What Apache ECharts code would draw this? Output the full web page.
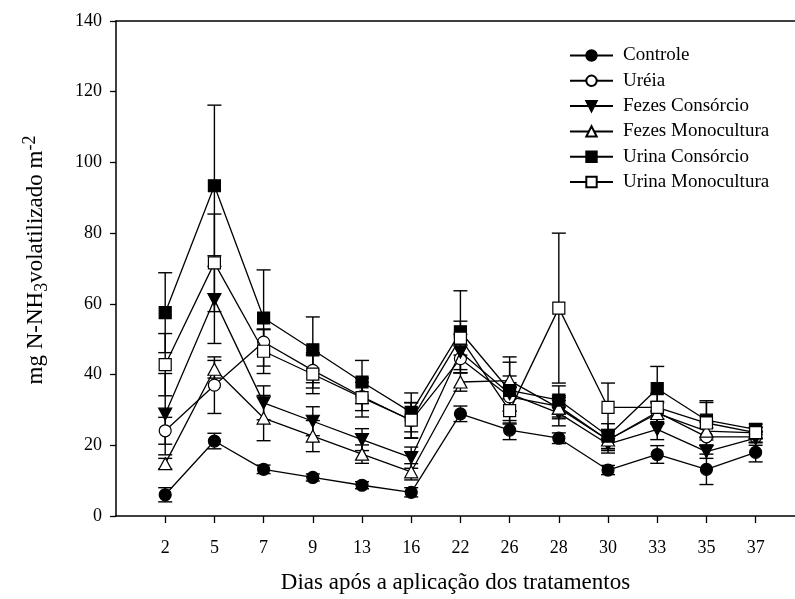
<!DOCTYPE html>
<html>
<head>
<meta charset="utf-8">
<script src="https://cdn.jsdelivr.net/npm/echarts@6/dist/echarts.min.js"></script>
<style>
  html, body { margin: 0; padding: 0; background: #fff; }
  #chart { width: 795px; height: 599px; }
</style>
</head>
<body>
<div id="chart"></div>
<script>
// Sampling days (x-axis categories)
const days = ['2', '5', '7', '9', '13', '16', '22', '26', '28', '30', '33', '35', '37'];

// Y-axis tick values
const yTicks = [0, 20, 40, 60, 80, 100, 120, 140];

// Volatilized N-NH3 (mg m-2) and standard errors per treatment
const controle      = [6.0, 21.2, 13.2, 10.9, 8.7, 6.7, 28.9, 24.3, 22.0, 13.0, 17.4, 13.2, 18.0];
const controleErr   = [2.0, 2.2, 1.2, 1.0, 1.0, 1.3, 2.2, 2.7, 1.5, 1.3, 2.5, 4.3, 2.7];

const ureia         = [24.1, 37.0, 49.2, 41.2, 33.8, 27.0, 44.5, 33.7, 31.0, 21.5, 29.4, 22.4, 22.4];
const ureiaErr      = [3.8, 8.0, 3.5, 5.0, 4.0, 5.0, 4.0, 4.0, 3.0, 3.0, 3.0, 2.5, 1.5];

const fezesCons     = [28.8, 61.2, 32.0, 26.8, 21.6, 16.5, 46.4, 34.6, 29.1, 20.3, 24.5, 18.2, 22.0];
const fezesConsErr  = [11.5, 12.4, 4.8, 4.1, 3.1, 3.0, 5.0, 5.0, 3.6, 2.5, 2.9, 1.9, 2.0];

const fezesMono     = [14.8, 41.5, 27.7, 22.6, 17.5, 12.5, 37.9, 38.3, 30.5, 21.5, 29.0, 24.0, 23.5];
const fezesMonoErr  = [1.5, 2.5, 6.4, 4.4, 2.6, 2.3, 2.6, 5.2, 3.0, 2.5, 3.0, 2.5, 1.5];

const urinaCons     = [57.5, 93.4, 56.0, 47.0, 37.9, 29.3, 52.1, 35.5, 32.8, 22.6, 36.0, 27.1, 24.5];
const urinaConsErr  = [11.3, 22.8, 13.6, 9.3, 6.1, 5.5, 11.6, 9.5, 4.0, 3.5, 6.3, 5.0, 1.5];

const urinaMono     = [42.8, 71.6, 46.6, 40.1, 33.5, 27.1, 50.3, 29.8, 58.8, 30.7, 30.7, 26.3, 23.6];
const urinaMonoErr  = [8.8, 13.8, 6.3, 5.5, 5.5, 5.0, 4.8, 3.5, 21.2, 6.9, 4.0, 6.3, 1.5];

const serif = 'Liberation Serif, Times New Roman, serif';
const downTriangle = 'path://M0,0L10,0L5,9Z';

const treatments = [
  { name: 'Controle',           vals: controle,  errs: controleErr,  symbol: 'circle',     size: 12,       fill: '#000' },
  { name: 'Uréia',              vals: ureia,     errs: ureiaErr,     symbol: 'circle',     size: 12,       fill: '#fff' },
  { name: 'Fezes Consórcio',    vals: fezesCons, errs: fezesConsErr, symbol: downTriangle, size: [13, 12], fill: '#000' },
  { name: 'Fezes Monocultura',  vals: fezesMono, errs: fezesMonoErr, symbol: 'triangle',   size: [13, 12], fill: '#fff' },
  { name: 'Urina Consórcio',    vals: urinaCons, errs: urinaConsErr, symbol: 'rect',       size: 12,       fill: '#000' },
  { name: 'Urina Monocultura',  vals: urinaMono, errs: urinaMonoErr, symbol: 'rect',       size: 12,       fill: '#fff' }
];

// Vertical error bar with caps, drawn in data coordinates
function errorBarSeries(vals, errs) {
  return {
    type: 'custom',
    silent: true,
    z: 1,
    data: vals.map((v, i) => [i, v - errs[i], v + errs[i]]),
    encode: { x: 0, y: [1, 2] },
    renderItem: function (params, api) {
      const x = api.value(0);
      const lo = api.coord([x, api.value(1)]);
      const hi = api.coord([x, api.value(2)]);
      const hw = 7;
      const st = { stroke: '#000', lineWidth: 1.4 };
      return {
        type: 'group',
        children: [
          { type: 'line', shape: { x1: lo[0], y1: lo[1], x2: hi[0], y2: hi[1] }, style: st },
          { type: 'line', shape: { x1: lo[0] - hw, y1: lo[1], x2: lo[0] + hw, y2: lo[1] }, style: st },
          { type: 'line', shape: { x1: hi[0] - hw, y1: hi[1], x2: hi[0] + hw, y2: hi[1] }, style: st }
        ]
      };
    }
  };
}

const series = [];
treatments.forEach(t => series.push(errorBarSeries(t.vals, t.errs)));
treatments.forEach((t, k) => series.push({
  name: t.name,
  type: 'line',
  z: 3 + k,
  data: t.vals.map((v, i) => [i, v]),
  symbol: t.symbol,
  symbolSize: t.size,
  showAllSymbol: true,
  lineStyle: { color: '#000', width: 1.3 },
  itemStyle: { color: t.fill, borderColor: '#000', borderWidth: 1.2 },
  emphasis: { disabled: true }
}));

const dayIdx = days.map((d, i) => i);

const chart = echarts.init(document.getElementById('chart'), null, { renderer: 'canvas' });
chart.setOption({
  animation: false,
  backgroundColor: '#fff',
  grid: { left: 116, top: 21, right: 0, height: 495, outerBoundsMode: 'none', containLabel: false },
  legend: {
    orient: 'vertical',
    left: 569, top: 46, padding: 0,
    itemWidth: 43, itemHeight: 13, itemGap: 6.3,
    data: treatments.map(t => t.name),
    textStyle: { fontFamily: serif, fontSize: 19, color: '#000', lineHeight: 19, padding: [0, 0, 0, 5] }
  },
  xAxis: [{
    type: 'value',
    min: -1, max: 12.8,
    name: 'Dias após a aplicação dos tratamentos',
    nameLocation: 'middle',
    nameGap: 55,
    nameTextStyle: { fontFamily: serif, fontSize: 23, color: '#000' },
    axisLine: { onZero: false, lineStyle: { color: '#000', width: 1.5 } },
    axisTick: { show: true, length: 7, lineStyle: { color: '#000', width: 1.3 }, customValues: dayIdx },
    axisLabel: {
      customValues: dayIdx,
      formatter: v => days[v] !== undefined ? days[v] : '',
      margin: 23,
      fontFamily: serif, fontSize: 18, color: '#000'
    },
    splitLine: { show: false }
  }, {
    // top frame line
    type: 'value',
    position: 'top',
    min: -1, max: 12.8,
    axisLine: { show: true, onZero: false, lineStyle: { color: '#000', width: 1.5 } },
    axisTick: { show: false },
    axisLabel: { show: false },
    splitLine: { show: false }
  }],
  yAxis: {
    type: 'value',
    min: 0, max: 140, interval: 20,
    axisLine: { show: true, onZero: false, lineStyle: { color: '#000', width: 1.5 } },
    axisTick: { show: true, length: 6, lineStyle: { color: '#000', width: 1.3 } },
    axisLabel: {
      margin: 14,
      formatter: v => yTicks.includes(v) ? String(v) : '',
      fontFamily: serif, fontSize: 18, color: '#000'
    },
    splitLine: { show: false }
  },
  graphic: [{
    type: 'text',
    x: 36, y: 260,
    rotation: Math.PI / 2,
    style: {
      text: '{m|mg N-NH}{sub|3}{m|volatilizado m}{sup|-2}',
      align: 'center',
      verticalAlign: 'middle',
      fill: '#000',
      rich: {
        m:   { fontFamily: serif, fontSize: 23, lineHeight: 30, fill: '#000' },
        sub: { fontFamily: serif, fontSize: 18, lineHeight: 14, verticalAlign: 'bottom', fill: '#000' },
        sup: { fontFamily: serif, fontSize: 18, lineHeight: 14, verticalAlign: 'top', fill: '#000' }
      }
    }
  }],
  series: series
});
</script>
</body>
</html>
